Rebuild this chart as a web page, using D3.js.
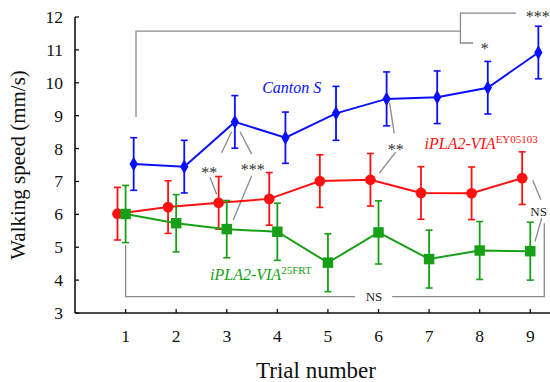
<!DOCTYPE html>
<html>
<head>
<meta charset="utf-8">
<script src="https://cdn.jsdelivr.net/npm/d3@7"></script>
<style>
  html, body { margin: 0; padding: 0; background: #fff; }
  svg { display: block; font-family: 'Liberation Serif', 'Times New Roman', serif; }
  .tick-lbl { font-size: 17.5px; fill: #111; }
  .ax-title { fill: #111; }
  .star { font-size: 16px; fill: #333; }
  .ns { font-size: 13px; fill: #222; }
  .ann { stroke: #8a8a8a; stroke-width: 1.3; fill: none; }
</style>
</head>
<body>
<div id="chart"></div>
<script>
const trials= [1, 2, 3, 4, 5, 6, 7, 8, 9];
const yTicks= [3, 4, 5, 6, 7, 8, 9, 10, 11, 12];

const cantonMean= [7.53, 7.45, 8.81, 8.33, 9.07, 9.51, 9.56, 9.85, 10.92];
const cantonErr=  [0.80, 0.80, 0.80, 0.78, 0.82, 0.82, 0.80, 0.80, 0.80];
const eyMean=     [6.02, 6.22, 6.35, 6.47, 7.01, 7.05, 6.65, 6.64, 7.10];
const eyErr=      [0.80, 0.80, 0.80, 0.80, 0.80, 0.80, 0.80, 0.80, 0.80];
const frtMean=    [6.01, 5.73, 5.55, 5.47, 4.53, 5.45, 4.64, 4.90, 4.88];
const frtErr=     [0.87, 0.87, 0.87, 0.87, 0.88, 0.96, 0.88, 0.88, 0.88];

// significance annotations, in data units (trial, mm/s)
const annLines= [
  [[1.206, 8.96], [1.206, 11.57], [7.62, 11.57]],
  [[7.87, 11.21], [7.62, 11.21], [7.62, 12.12], [8.72, 12.12]],
  [[3.096, 8.51], [2.898, 7.87]],
  [[2.668, 7.13], [2.80, 6.61]],
  [[3.262, 8.51], [3.493, 7.83]],
  [[3.493, 7.17], [3.129, 5.83]],
  [[6.22, 9.38], [6.31, 8.46]],
  [[6.34, 7.89], [6.015, 7.25]],
  [[9.047, 7.04], [9.21, 6.44]],
  [[9.225, 5.88], [9.093, 5.17]],
  [[1.0, 5.07], [1.0, 3.50], [5.535, 3.50]],
  [[6.27, 3.50], [9.277, 3.50], [9.277, 5.73]],
];
const annTexts= [
  { x: 9.15, y: 12.12, t: '***', cls: 'star', anchor: 'middle' },
  { x: 8.10, y: 11.15, t: '*', cls: 'star', anchor: 'middle' },
  { x: 2.655, y: 7.38, t: '**', cls: 'star', anchor: 'middle' },
  { x: 3.512, y: 7.48, t: '***', cls: 'star', anchor: 'middle' },
  { x: 6.34, y: 8.08, t: '**', cls: 'star', anchor: 'middle' },
  { x: 9.0, y: 6.08, t: 'NS', cls: 'ns', anchor: 'start' },
  { x: 5.91, y: 3.50, t: 'NS', cls: 'ns', anchor: 'middle' },
];

const W= 550, H= 382;
const svg= d3.select('#chart').append('svg')
  .attr('width', W).attr('height', H);

const xSc= d3.scaleLinear().domain([0, 9.4]).range([75, 550.5]);
const ySc= d3.scaleLinear().domain([3, 12]).range([313, 17]);

// axes
svg.append('line')
  .attr('x1', xSc(0)).attr('x2', W).attr('y1', ySc(3)).attr('y2', ySc(3))
  .attr('stroke', '#111').attr('stroke-width', 1.6);
svg.append('line')
  .attr('x1', xSc(0)).attr('x2', xSc(0)).attr('y1', ySc(3)).attr('y2', ySc(12))
  .attr('stroke', '#111').attr('stroke-width', 1.6);

svg.selectAll(null).data(yTicks).join('line')
  .attr('x1', xSc(0)).attr('x2', xSc(0)+4)
  .attr('y1', d => ySc(d)).attr('y2', d => ySc(d))
  .attr('stroke', '#111').attr('stroke-width', 1.3);
svg.selectAll(null).data(yTicks).join('text')
  .attr('class', 'tick-lbl')
  .attr('x', xSc(0)-12).attr('y', d => ySc(d)+6)
  .attr('text-anchor', 'end')
  .text(d => d);

svg.selectAll(null).data(trials).join('line')
  .attr('x1', d => xSc(d)).attr('x2', d => xSc(d))
  .attr('y1', ySc(3)).attr('y2', ySc(3)-4)
  .attr('stroke', '#111').attr('stroke-width', 1.3);
svg.selectAll(null).data(trials).join('text')
  .attr('class', 'tick-lbl')
  .attr('x', d => xSc(d)).attr('y', ySc(3)+29)
  .attr('text-anchor', 'middle')
  .text(d => d);

svg.append('text')
  .attr('class', 'ax-title')
  .attr('font-size', 21)
  .attr('transform', `translate(25,${(ySc(3)+ySc(12))/2}) rotate(-90)`)
  .attr('text-anchor', 'middle')
  .text('Walking speed (mm/s)');
svg.append('text')
  .attr('class', 'ax-title')
  .attr('font-size', 23)
  .attr('x', 316).attr('y', 378)
  .attr('text-anchor', 'middle')
  .text('Trial number');

// annotations
const annLine= d3.line().x(d => xSc(d[0])).y(d => ySc(d[1]));
svg.selectAll(null).data(annLines).join('path')
  .attr('class', 'ann')
  .attr('d', annLine);
svg.selectAll(null).data(annTexts).join('text')
  .attr('class', d => d.cls)
  .attr('x', d => xSc(d.x))
  .attr('y', d => ySc(d.y) + (d.cls === 'star' ? 9 : 4.5))
  .attr('text-anchor', d => d.anchor)
  .text(d => d.t);

// series
const series= [
  { mean: eyMean, err: eyErr, color: '#ff1010', dx: -0.16, shape: 'circle' },
  { mean: frtMean, err: frtErr, color: '#17a017', dx: 0, shape: 'square' },
  { mean: cantonMean, err: cantonErr, color: '#0a10ff', dx: 0.16, shape: 'diamond' },
];

for (const s of series) {
  const pts= trials.map((t, i) => ({ x: t+s.dx, y: s.mean[i], e: s.err[i] }));
  const g= svg.append('g');
  g.append('path')
    .attr('d', d3.line().x(d => xSc(d.x)).y(d => ySc(d.y))(pts))
    .attr('fill', 'none').attr('stroke', s.color).attr('stroke-width', 2);
  g.selectAll(null).data(pts).join('line')
    .attr('x1', d => xSc(d.x)).attr('x2', d => xSc(d.x))
    .attr('y1', d => ySc(d.y-d.e)).attr('y2', d => ySc(d.y+d.e))
    .attr('stroke', s.color).attr('stroke-width', 1.8);
  for (const sign of [-1, 1]) {
    g.selectAll(null).data(pts).join('line')
      .attr('x1', d => xSc(d.x)-3.5).attr('x2', d => xSc(d.x)+3.5)
      .attr('y1', d => ySc(d.y+sign*d.e)).attr('y2', d => ySc(d.y+sign*d.e))
      .attr('stroke', s.color).attr('stroke-width', 1.6);
  }
  const sym= s.shape === 'circle' ? d3.symbolCircle : s.shape === 'square' ? d3.symbolSquare : d3.symbolDiamond;
  const size= s.shape === 'circle' ? 90 : s.shape === 'square' ? 110 : 60;
  g.selectAll(null).data(pts).join('path')
    .attr('transform', d => `translate(${xSc(d.x)},${ySc(d.y)})`)
    .attr('d', d3.symbol(sym, size))
    .attr('fill', s.color);
}

// series labels
const lbl= (x, y, color, main, sup) => {
  const t= svg.append('text')
    .attr('x', x).attr('y', y)
    .attr('fill', color)
    .attr('font-style', 'italic')
    .attr('font-size', 16);
  t.append('tspan').text(main);
  if (sup) {
    t.append('tspan')
      .attr('font-style', 'normal').attr('font-size', 11)
      .attr('dy', -6)
      .text(sup);
  }
};
lbl(xSc(3.7), ySc(9.7), '#0a10ff', 'Canton S');
lbl(xSc(6.91), ySc(8.0), '#ff1010', 'iPLA2-VIA', 'EY05103');
lbl(xSc(2.67), ySc(4.0), '#17a017', 'iPLA2-VIA', '25FRT');
</script>
</body>
</html>
